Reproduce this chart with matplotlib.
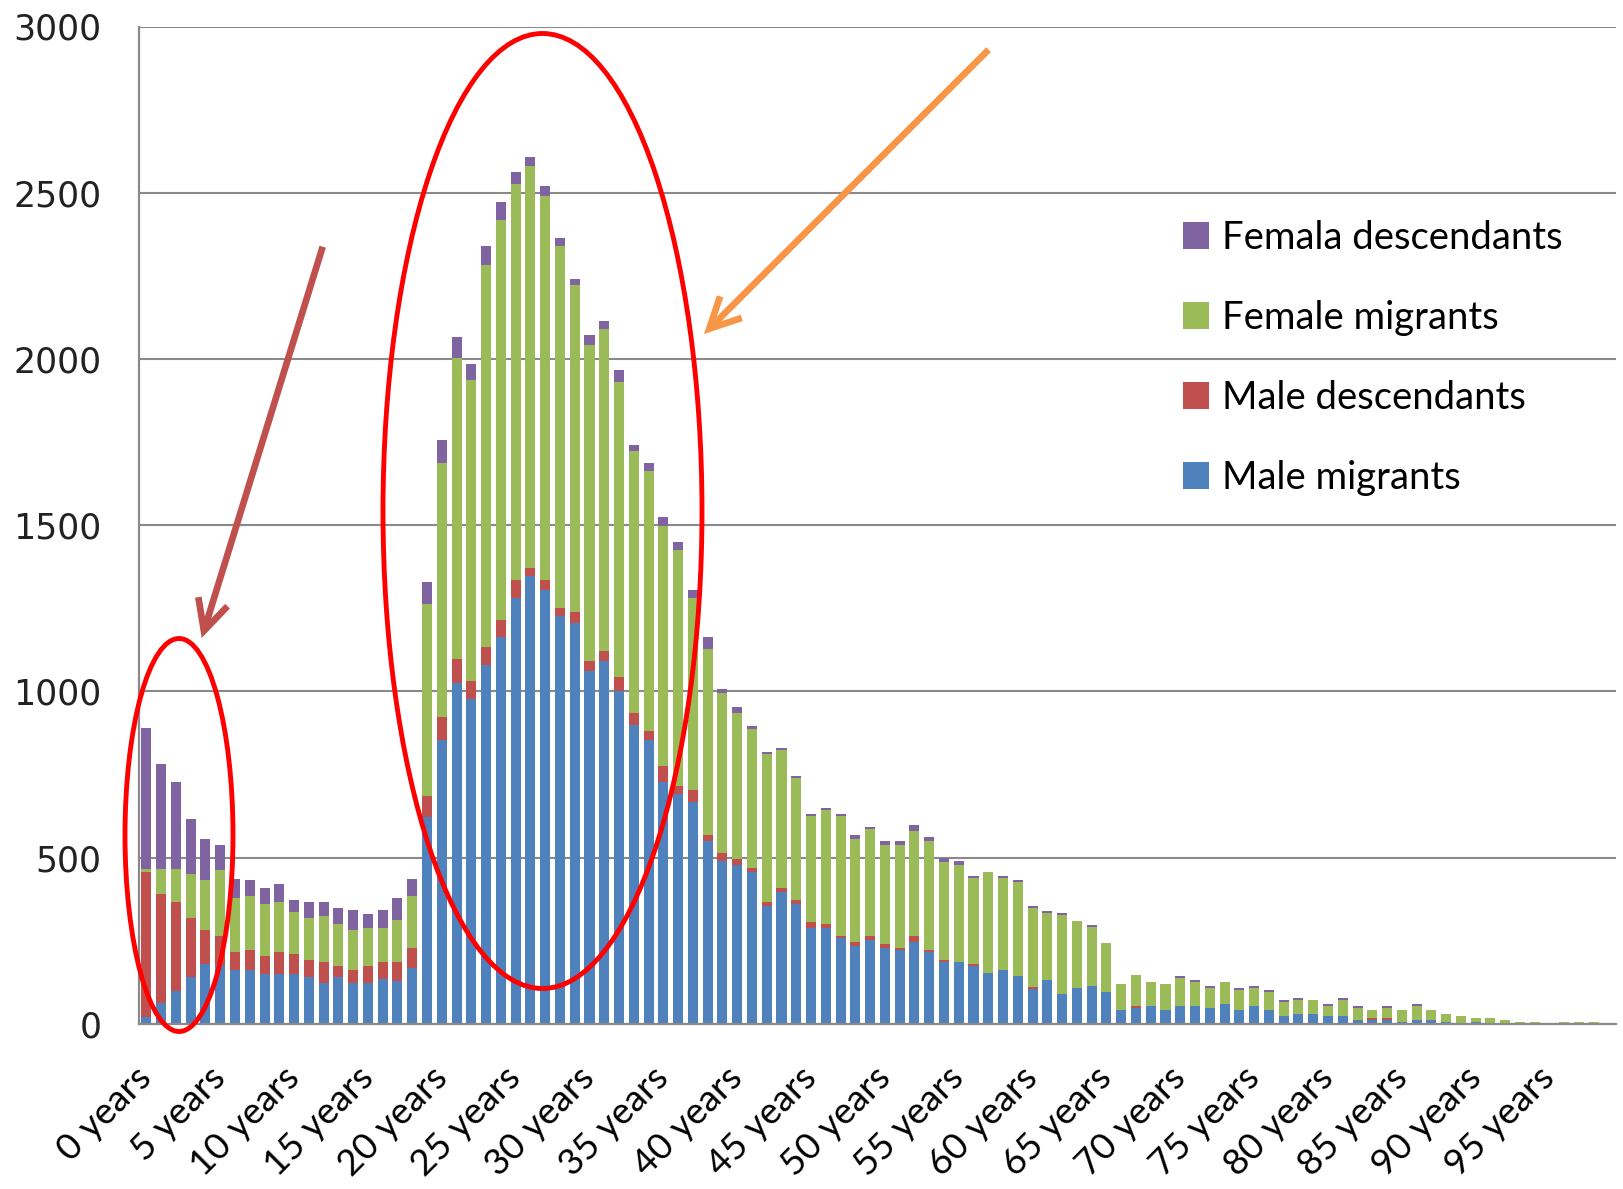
import matplotlib
matplotlib.use("Agg")
import matplotlib.pyplot as plt
from matplotlib.patches import Ellipse, Patch, FancyArrowPatch, ArrowStyle
import numpy as np

# Age groups 0..99 years
ages = list(range(100))
tick_labels = [f"{a} years" for a in range(0, 100, 5)]

male_migrants = [
    21, 61, 98, 139, 181, 176, 163, 163, 151, 151,
    151, 139, 121, 139, 121, 121, 133, 127, 169, 622,
    853, 1025, 977, 1079, 1162, 1281, 1346, 1305, 1228, 1204,
    1061, 1091, 1001, 900, 853, 728, 692, 668, 550, 490,
    478, 455, 353, 395, 359, 288, 288, 259, 235, 253,
    229, 223, 247, 217, 187, 187, 175, 152, 163, 145,
    104, 131, 89, 106, 113, 95, 42, 48, 53, 42,
    53, 53, 47, 60, 42, 53, 42, 23, 30, 30,
    23, 23, 12, 12, 12, 6, 12, 12, 6, 0,
    6, 0, 0, 0, 0, 0, 0, 0, 0, 0,
]
male_descendants = [
    435, 328, 268, 179, 102, 89, 54, 60, 54, 66,
    60, 54, 66, 36, 42, 54, 54, 60, 60, 64,
    71, 72, 54, 54, 54, 54, 24, 30, 24, 36,
    30, 30, 42, 36, 29, 47, 24, 36, 18, 25,
    17, 12, 12, 12, 12, 18, 12, 6, 10, 12,
    11, 6, 18, 6, 6, 0, 6, 0, 0, 0,
    6, 0, 0, 0, 0, 0, 0, 6, 0, 0,
    0, 0, 0, 0, 0, 0, 0, 0, 0, 0,
    0, 0, 0, 6, 6, 0, 0, 0, 0, 0,
    0, 0, 0, 0, 0, 0, 0, 0, 0, 0,
]
female_migrants = [
    10, 77, 100, 131, 148, 196, 160, 160, 154, 148,
    124, 125, 137, 125, 119, 113, 101, 125, 154, 577,
    763, 905, 907, 1149, 1203, 1191, 1209, 1155, 1088, 981,
    952, 970, 887, 787, 781, 721, 708, 577, 558, 481,
    441, 421, 445, 415, 368, 320, 344, 361, 310, 320,
    297, 308, 314, 326, 292, 291, 256, 303, 274, 280,
    237, 202, 237, 203, 178, 148, 77, 94, 71, 77,
    83, 72, 60, 64, 59, 54, 53, 42, 41, 41,
    31, 48, 35, 24, 30, 36, 42, 30, 24, 24,
    12, 18, 12, 6, 6, 0, 6, 6, 6, 0,
]
female_descendants = [
    423, 316, 262, 166, 124, 77, 59, 48, 48, 54,
    37, 47, 41, 47, 60, 42, 54, 65, 53, 65,
    70, 65, 46, 59, 53, 35, 29, 30, 24, 18,
    30, 24, 36, 18, 24, 29, 24, 23, 37, 11,
    18, 7, 6, 6, 6, 6, 6, 6, 12, 6,
    12, 12, 19, 12, 14, 12, 6, 0, 6, 6,
    6, 6, 6, 0, 6, 0, 0, 0, 0, 0,
    7, 6, 6, 0, 6, 6, 6, 6, 6, 0,
    6, 6, 6, 0, 6, 0, 6, 0, 0, 0,
    0, 0, 0, 0, 0, 0, 0, 0, 0, 0,
]

series_names = ["Male migrants", "Male descendants", "Female migrants", "Femala descendants"]
series_values = [male_migrants, male_descendants, female_migrants, female_descendants]
series_colors = ["#4F81BD", "#C0504D", "#9BBB59", "#8064A2"]

W, H, DPI = 1623, 1189, 100
fig = plt.figure(figsize=(W / DPI, H / DPI), dpi=DPI, facecolor="white")

# axes box in pixels: left 139, right 1616, top 26.5, bottom 1023.7
ax_l, ax_r, ax_t, ax_b = 139, 1616, 26.5, 1023.7
ax = fig.add_axes([ax_l / W, 1 - ax_b / H, (ax_r - ax_l) / W, (ax_b - ax_t) / H])

x = np.arange(len(ages))
bottom = np.zeros(len(ages))
for name, vals, col in zip(series_names, series_values, series_colors):
    v = np.array(vals, dtype=float)
    ax.bar(x, v, width=0.68, bottom=bottom, color=col, edgecolor="none", label=name, zorder=2)
    bottom += v

ax.set_xlim(-0.5, len(ages) - 0.5)
ax.set_ylim(0, 3000)
ax.set_yticks(np.arange(0, 3001, 500))
ax.set_yticklabels([str(v) for v in range(0, 3001, 500)], fontsize=25,
                   family="DejaVu Sans", color="#222222")
ax.tick_params(axis="y", length=0, pad=27)

ax.set_xticks(np.arange(0, 100, 5))
ax.set_xticklabels(tick_labels, rotation=45, ha="right", va="center",
                   rotation_mode="anchor", fontsize=26.5, family="Lato")
ax.tick_params(axis="x", length=0, pad=35)

ax.set_axisbelow(True)
ax.yaxis.grid(True, color="#8a8a8a", linewidth=1.5)
for s in ["top", "right"]:
    ax.spines[s].set_visible(False)
for s in ["left", "bottom"]:
    ax.spines[s].set_color("#8a8a8a")
    ax.spines[s].set_linewidth(1.6)

# legend, top series first
handles = [Patch(facecolor=c, edgecolor="none") for c in series_colors][::-1]
labels = series_names[::-1]
ax.legend(handles, labels, loc="upper left",
          bbox_to_anchor=(1183 / W, 1 - 220 / H), bbox_transform=fig.transFigure,
          frameon=False, prop={"family": "Lato", "size": 27.5},
          handlelength=0.68, handleheight=0.68, handletextpad=0.33,
          labelspacing=1.15, borderpad=0, borderaxespad=0)

# highlight ellipses, positioned in data units
def px_to_data(px, py):
    xd = (px - ax_l) / ((ax_r - ax_l) / 100.0) - 0.5
    yd = (ax_b - py) * 3000.0 / (ax_b - ax_t)
    return xd, yd

sx = 100.0 / (ax_r - ax_l)
sy = 3000.0 / (ax_b - ax_t)
for (cx, cy, w, h) in [(179, 835, 108, 393), (542.5, 511, 319, 955)]:
    xd, yd = px_to_data(cx, cy)
    e = Ellipse((xd, yd), w * sx, h * sy, fill=False, edgecolor="#FF0000",
                linewidth=3.5, zorder=5, clip_on=False)
    ax.add_patch(e)

# arrows pointing at the highlighted groups (figure pixel coordinates)
def add_arrow(p0, p1, color):
    a = FancyArrowPatch((p0[0], H - p0[1]), (p1[0], H - p1[1]),
                        transform=None,
                        arrowstyle=ArrowStyle("->", head_length=1.1, head_width=0.55),
                        mutation_scale=20, color=color, linewidth=4.8,
                        shrinkA=0, shrinkB=0, capstyle="butt", joinstyle="miter",
                        zorder=6)
    fig.patches.append(a)

add_arrow((322.7, 246.7), (201.7, 638), "#C0504D")
add_arrow((988.6, 49.7), (704, 334), "#F79646")

fig.savefig("out.png", dpi=DPI, facecolor="white")
